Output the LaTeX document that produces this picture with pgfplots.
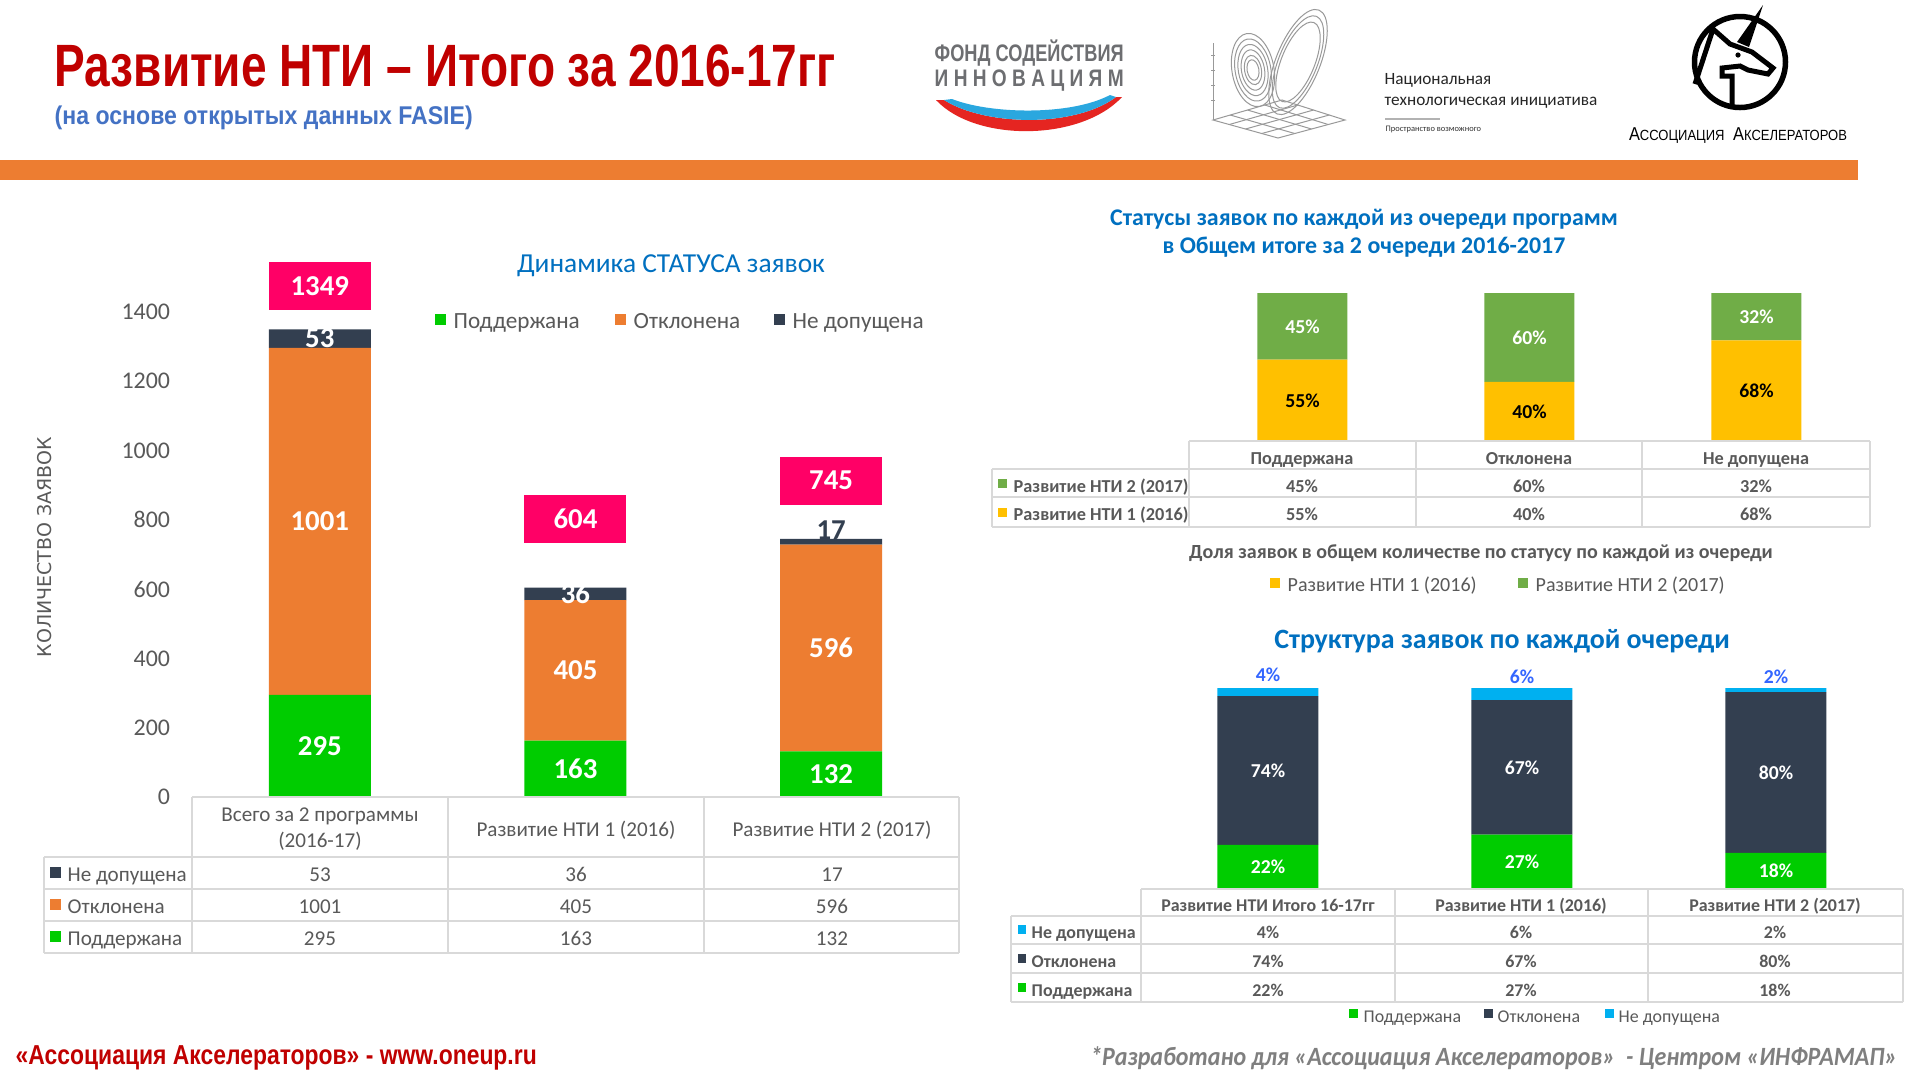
\documentclass[border=0pt]{standalone}
\usepackage{fontspec}
\setmainfont{Carlito}
\newfontfamily\arialf{Liberation Sans}
\newfontfamily\dejavu{DejaVu Sans}
\usepackage{graphicx}
\usepackage{pgfplots}
\usepackage{pgfplotstable}
\pgfplotsset{compat=1.18}
\usetikzlibrary{calc}
\newcommand\fz[1]{\fontsize{#1pt}{#1pt}\selectfont}

\definecolor{tRed}{HTML}{C00000}
\definecolor{sBlue}{HTML}{4472C4}
\definecolor{bandOr}{HTML}{ED7D31}
\definecolor{cGreen}{HTML}{00CC00}
\definecolor{cOrange}{HTML}{ED7D31}
\definecolor{cDark}{HTML}{333F50}
\definecolor{cPink}{HTML}{FF0066}
\definecolor{cTitle}{HTML}{0070C0}
\definecolor{cYellow}{HTML}{FFC000}
\definecolor{cLGreen}{HTML}{70AD47}
\definecolor{cLBlue}{HTML}{00B0F0}
\definecolor{pBlue}{HTML}{3366FF}
\definecolor{gLine}{HTML}{D9D9D9}
\definecolor{tGray}{HTML}{595959}
\definecolor{fGray}{HTML}{7F7F7F}
\definecolor{logoGray}{HTML}{6D6E71}
\definecolor{rusBlue}{HTML}{2AA7DF}
\definecolor{rusRed}{HTML}{E52521}

\pgfplotsset{
  /pgf/number format/1000 sep={},
  /pgf/number format/assume math mode=true,
  basechart/.style={scale only axis, anchor=south west, xmin=-0.5, xmax=2.5, ymin=0, clip=false,
     axis line style={draw=none}, tick style={draw=none}, xtick=\empty},
  labelchart/.style={basechart, hide axis},
}

% left chart: counts
\pgfplotstableread{
x sup rej nd
0 295 1001 53
1 163 405 36
2 132 596 17
}\leftdata
\pgfplotstableread{
x y v
0 147.5 295
0 795.5 1001
0 1322.5 53
1 81.5 163
1 365.5 405
1 586 36
2 66 132
2 430 596
}\leftlabels
\pgfplotstableread{
x y v
2 770 17
}\leftlabelsdark
\pgfplotstableread{
x y v
0 1474 1349
1 803 604
2 913 745
}\lefttotals

% right top chart: shares by status
\pgfplotstableread{
x s1 s2
0 55 45
1 40 60
2 68 32
}\rtdata
\pgfplotstableread{
x y v
0 27.5 55
1 20 40
2 34 68
}\rtlabA
\pgfplotstableread{
x y v
0 77.5 45
1 70 60
2 84 32
}\rtlabB

% right bottom chart: structure
\pgfplotstableread{
x sup rej nd
0 22 74 4
1 27 67 6
2 18 80 2
}\rbdata
\pgfplotstableread{
x y v
0 11 22
1 13.5 27
2 9 18
0 59 74
1 60.5 67
2 58 80
}\rblabW
\pgfplotstableread{
x y v
0 106.5 4
1 105.5 6
2 105.5 2
}\rblabTop

\begin{document}
\begin{tikzpicture}[x=0.1mm,y=0.1mm]
\useasboundingbox (0,0) rectangle (1920,-1080);
\fill[white] (0,0) rectangle (1920,-1080);

% ---------- header ----------
\node[anchor=base west, inner sep=0, text=tRed] at (54,-86)
  {\arialf\bfseries\fz{17}\resizebox{78.1mm}{\height}{Развитие НТИ – Итого за 2016-17гг}};
\node[anchor=base west, inner sep=0, text=sBlue] at (54,-124)
  {\arialf\bfseries\fz{7.3}\resizebox{41.8mm}{\height}{(на основе открытых данных FASIE)}};
\fill[bandOr] (0,-160) rectangle (1858,-180);

% fund logo
\node[anchor=base west, inner sep=0, text=logoGray] at (934,-61)
  {\arialf\bfseries\fz{6.8}\resizebox{18.9mm}{\height}{ФОНД СОДЕЙСТВИЯ}};
\node[anchor=base west, inner sep=0, text=logoGray] at (934,-86)
  {\arialf\bfseries\fz{6.8}\makebox[18.9mm][s]{\scalebox{0.8}[1]{И}\hfill \scalebox{0.8}[1]{Н}\hfill \scalebox{0.8}[1]{Н}\hfill \scalebox{0.8}[1]{О}\hfill \scalebox{0.8}[1]{В}\hfill \scalebox{0.8}[1]{А}\hfill \scalebox{0.8}[1]{Ц}\hfill \scalebox{0.8}[1]{И}\hfill \scalebox{0.8}[1]{Я}\hfill \scalebox{0.8}[1]{М}}};
\fill[rusRed] (936,-100) .. controls (975,-142) and (1080,-142) .. (1122,-97)
   -- (1116,-97) .. controls (1075,-128) and (985,-126) .. (944,-100) -- cycle;
\fill[rusBlue] (944,-100) .. controls (985,-126) and (1075,-128) .. (1116,-97)
   -- (1110,-95) .. controls (1070,-116) and (990,-114) .. (952,-99) -- cycle;

% NTI logo
\begin{scope}[draw=gray!80, line width=0.1mm]
\draw (1213,-43) -- (1213,-120);
\foreach \yy in {55,70,85,100} \draw (1211,-\yy) -- (1215,-\yy);
\coordinate (A) at (1213,-120); \coordinate (B) at (1282,-100);
\coordinate (C) at (1345,-120); \coordinate (D) at (1278,-138);
\draw (A) -- (B) -- (C) -- (D) -- cycle;
\foreach \t in {0.25,0.5,0.75} {
  \draw ($(A)!\t!(B)$) -- ($(D)!\t!(C)$);
  \draw ($(A)!\t!(D)$) -- ($(B)!\t!(C)$);
}
\foreach \r in {1,0.85,0.7,0.55,0.4,0.28} {
  \draw[rotate around={10:(1253,-70)}] (1253,-70) ellipse ({21*\r} and {37*\r});
}
\foreach \r in {1,0.88,0.76} {
  \draw[rotate around={-22:(1298,-62)}] (1298,-62) ellipse ({22*\r} and {56*\r});
}
\end{scope}
\node[anchor=base west, inner sep=0, text=black!85] at (1384,-84) {\fz{4.9}Национальная};
\node[anchor=base west, inner sep=0, text=black!85] at (1384,-105) {\fz{4.9}технологическая инициатива};
\draw[gray!60, line width=0.25mm] (1385,-119) -- (1440,-119);
\node[anchor=base west, inner sep=0, text=black!80] at (1385,-131) {\fz{2.4}Пространство возможного};

% Association logo
\draw[black, line width=0.55mm] (1740,-62) circle (45.5);
\fill[black] (1763,-5) -- (1737,-42) -- (1749,-47) -- cycle;
\draw[black, line width=0.5mm, line join=miter]
  (1695,-84) -- (1713,-29) -- (1730,-44) -- (1752,-52) -- (1773,-68) -- (1768,-74)
  -- (1748,-70) -- (1740,-66) -- (1722,-68) -- (1722,-76) -- (1732,-76) -- (1732,-106);
\fill[black] (1738,-55) circle (2.6);
\node[anchor=base, inner sep=0] at (1738,-140)
  {\arialf\resizebox{21.8mm}{\height}{{\fz{5.3}А}{\fz{4.2}ССОЦИАЦИЯ} {\fz{5.3}А}{\fz{4.2}КСЕЛЕРАТОРОВ}}};

% ---------- left chart ----------
\node[anchor=base, text=cTitle, inner sep=0] at (671,-272) {\fz{7.8}Динамика СТАТУСА заявок};
\fill[cGreen] (435,-314) rectangle (446,-325);
\node[anchor=mid west, text=tGray, inner sep=0] at (453,-320) {\fz{6.6}Поддержана};
\fill[cOrange] (615,-314) rectangle (626,-325);
\node[anchor=mid west, text=tGray, inner sep=0] at (633,-320) {\fz{6.6}Отклонена};
\fill[cDark] (774,-314) rectangle (785,-325);
\node[anchor=mid west, text=tGray, inner sep=0] at (792,-320) {\fz{6.6}Не допущена};
\node[rotate=90, text=tGray, inner sep=0] at (45,-547) {\dejavu\fz{5.4}КОЛИЧЕСТВО ЗАЯВОК};

\begin{axis}[basechart, at={(19.2mm,-79.7mm)}, width=76.7mm, height=55.46mm, ymax=1600,
  ybar stacked, bar width=10.2mm,
  ytick={0,200,...,1400},
  yticklabel style={font=\fz{6.8}, text=tGray, xshift=-0.95mm}]
\addplot[fill=cGreen, draw=none] table[x=x, y=sup]{\leftdata};
\addplot[fill=cOrange, draw=none] table[x=x, y=rej]{\leftdata};
\addplot[fill=cDark, draw=none] table[x=x, y=nd]{\leftdata};
\end{axis}
\begin{axis}[labelchart, at={(19.2mm,-79.7mm)}, width=76.7mm, height=55.46mm, ymax=1600]
\addplot[draw=none, mark=none, nodes near coords, point meta=explicit,
  every node near coord/.style={anchor=center, text=white, font=\bfseries\fz{8.2}}]
  table[x=x, y=y, meta=v]{\leftlabels};
\addplot[draw=none, mark=none, nodes near coords, point meta=explicit,
  every node near coord/.style={anchor=center, text=cDark, font=\bfseries\fz{8.2}}]
  table[x=x, y=y, meta=v]{\leftlabelsdark};
\addplot[draw=none, mark=none, nodes near coords, point meta=explicit,
  every node near coord/.style={anchor=center, fill=cPink, text=white, inner sep=0,
     minimum width=10.2mm, minimum height=4.8mm, font=\bfseries\fz{8.2}}]
  table[x=x, y=y, meta=v]{\lefttotals};
\end{axis}

% left table
\begin{scope}[draw=gLine, line width=0.2mm]
\draw (192,-797) -- (959,-797);
\foreach \y in {857,889,921,953} \draw (44,-\y) -- (959,-\y);
\foreach \x in {192,448,704,959} \draw (\x,-797) -- (\x,-953);
\draw (44,-857) -- (44,-953);
\end{scope}
\begin{scope}[every node/.style={text=tGray, inner sep=0}]
\node[align=center, font=\fontsize{6}{7.4}\selectfont] at (320,-829) {Всего за 2 программы\\(2016-17)};
\node[anchor=mid, font=\fz{6}] at (576,-828) {Развитие НТИ 1 (2016)};
\node[anchor=mid, font=\fz{6}] at (832,-828) {Развитие НТИ 2 (2017)};
\fill[cDark] (50,-867) rectangle (61,-878);
\node[anchor=mid west, font=\fz{6}] at (67,-873) {Не допущена};
\fill[cOrange] (50,-899) rectangle (61,-910);
\node[anchor=mid west, font=\fz{6}] at (67,-905) {Отклонена};
\fill[cGreen] (50,-931) rectangle (61,-942);
\node[anchor=mid west, font=\fz{6}] at (67,-937) {Поддержана};
\foreach \x/\a/\b/\c in {320/53/1001/295, 576/36/405/163, 832/17/596/132} {
  \node[anchor=mid, font=\fz{6}] at (\x,-873) {\a};
  \node[anchor=mid, font=\fz{6}] at (\x,-905) {\b};
  \node[anchor=mid, font=\fz{6}] at (\x,-937) {\c};
}
\end{scope}

% ---------- right top chart ----------
\node[anchor=base, text=cTitle, inner sep=0] at (1364,-225) {\bfseries\fz{6.8}Статусы заявок по каждой из очереди программ};
\node[anchor=base, text=cTitle, inner sep=0] at (1364,-253) {\bfseries\fz{6.8}в Общем итоге за 2 очереди 2016-2017};
\begin{axis}[basechart, at={(118.9mm,-44.1mm)}, width=68.1mm, height=14.8mm, ymax=100,
  ybar stacked, bar width=9mm, ytick=\empty]
\addplot[fill=cYellow, draw=none] table[x=x, y=s1]{\rtdata};
\addplot[fill=cLGreen, draw=none] table[x=x, y=s2]{\rtdata};
\end{axis}
\begin{axis}[labelchart, at={(118.9mm,-44.1mm)}, width=68.1mm, height=14.8mm, ymax=100]
\addplot[draw=none, mark=none, nodes near coords={\pgfmathprintnumber{\pgfplotspointmeta}\%}, point meta=explicit,
  every node near coord/.style={anchor=center, text=black, font=\bfseries\fz{5.6}}]
  table[x=x, y=y, meta=v]{\rtlabA};
\addplot[draw=none, mark=none, nodes near coords={\pgfmathprintnumber{\pgfplotspointmeta}\%}, point meta=explicit,
  every node near coord/.style={anchor=center, text=white, font=\bfseries\fz{5.6}}]
  table[x=x, y=y, meta=v]{\rtlabB};
\end{axis}
\begin{scope}[draw=gLine, line width=0.2mm]
\draw (1189,-441) -- (1870,-441);
\foreach \y in {469,497,527} \draw (992,-\y) -- (1870,-\y);
\foreach \x in {1189,1416,1642,1870} \draw (\x,-441) -- (\x,-527);
\draw (992,-469) -- (992,-527);
\end{scope}
\begin{scope}[every node/.style={text=tGray, inner sep=0, font=\bfseries\fz{5.2}}]
\node[anchor=mid] at (1302,-456) {Поддержана};
\node[anchor=mid] at (1529,-456) {Отклонена};
\node[anchor=mid] at (1756,-456) {Не допущена};
\fill[cLGreen] (998,-479) rectangle (1007,-488);
\node[anchor=mid west] at (1013,-484) {Развитие НТИ 2 (2017)};
\fill[cYellow] (998,-508) rectangle (1007,-517);
\node[anchor=mid west] at (1013,-512) {Развитие НТИ 1 (2016)};
\foreach \x/\a/\b in {1302/45/55, 1529/60/40, 1756/32/68} {
  \node[anchor=mid] at (\x,-484) {\a\%};
  \node[anchor=mid] at (\x,-512) {\b\%};
}
\end{scope}
\node[anchor=base, text=tGray, inner sep=0] at (1481,-558) {\bfseries\fz{5.7}Доля заявок в общем количестве по статусу по каждой из очереди};
\fill[cYellow] (1270,-578) rectangle (1280,-588);
\node[anchor=mid west, text=tGray, inner sep=0] at (1287,-583) {\fz{5.7}Развитие НТИ 1 (2016)};
\fill[cLGreen] (1518,-578) rectangle (1528,-588);
\node[anchor=mid west, text=tGray, inner sep=0] at (1535,-583) {\fz{5.7}Развитие НТИ 2 (2017)};

% ---------- right bottom chart ----------
\node[anchor=base, text=cTitle, inner sep=0] at (1502,-648) {\bfseries\fz{7.95}Структура заявок по каждой очереди};
\begin{axis}[basechart, at={(114.1mm,-88.9mm)}, width=76.2mm, height=20.1mm, ymax=100,
  ybar stacked, bar width=10.1mm, ytick=\empty]
\addplot[fill=cGreen, draw=none] table[x=x, y=sup]{\rbdata};
\addplot[fill=cDark, draw=none] table[x=x, y=rej]{\rbdata};
\addplot[fill=cLBlue, draw=none] table[x=x, y=nd]{\rbdata};
\end{axis}
\begin{axis}[labelchart, at={(114.1mm,-88.9mm)}, width=76.2mm, height=20.1mm, ymax=100]
\addplot[draw=none, mark=none, nodes near coords={\pgfmathprintnumber{\pgfplotspointmeta}\%}, point meta=explicit,
  every node near coord/.style={anchor=center, text=white, font=\bfseries\fz{5.6}}]
  table[x=x, y=y, meta=v]{\rblabW};
\addplot[draw=none, mark=none, nodes near coords={\pgfmathprintnumber{\pgfplotspointmeta}\%}, point meta=explicit,
  every node near coord/.style={anchor=center, text=pBlue, font=\bfseries\fz{5.6}}]
  table[x=x, y=y, meta=v]{\rblabTop};
\end{axis}
\begin{scope}[draw=gLine, line width=0.2mm]
\draw (1141,-889) -- (1903,-889);
\foreach \y in {916,944,973,1002} \draw (1011,-\y) -- (1903,-\y);
\foreach \x in {1141,1395,1648,1903} \draw (\x,-889) -- (\x,-1002);
\draw (1011,-916) -- (1011,-1002);
\end{scope}
\begin{scope}[every node/.style={text=tGray, inner sep=0, font=\bfseries\fz{5.1}}]
\node[anchor=mid] at (1268,-903) {Развитие НТИ Итого 16-17гг};
\node[anchor=mid] at (1521,-903) {Развитие НТИ 1 (2016)};
\node[anchor=mid] at (1775,-903) {Развитие НТИ 2 (2017)};
\fill[cLBlue] (1018,-925) rectangle (1026,-934);
\node[anchor=mid west] at (1031,-930) {Не допущена};
\fill[cDark] (1018,-954) rectangle (1026,-963);
\node[anchor=mid west] at (1031,-959) {Отклонена};
\fill[cGreen] (1018,-983) rectangle (1026,-992);
\node[anchor=mid west] at (1031,-988) {Поддержана};
\foreach \x/\a/\b/\c in {1268/4/74/22, 1521/6/67/27, 1775/2/80/18} {
  \node[anchor=mid] at (\x,-930) {\a\%};
  \node[anchor=mid] at (\x,-959) {\b\%};
  \node[anchor=mid] at (\x,-988) {\c\%};
}
\end{scope}
\fill[cGreen] (1349,-1009) rectangle (1358,-1018);
\node[anchor=mid west, text=tGray, inner sep=0] at (1363,-1014) {\fz{5.1}Поддержана};
\fill[cDark] (1484,-1009) rectangle (1493,-1018);
\node[anchor=mid west, text=tGray, inner sep=0] at (1497,-1014) {\fz{5.1}Отклонена};
\fill[cLBlue] (1605,-1009) rectangle (1614,-1018);
\node[anchor=mid west, text=tGray, inner sep=0] at (1618,-1014) {\fz{5.1}Не допущена};

% ---------- footer ----------
\node[anchor=base west, inner sep=0, text=tRed] at (15,-1064)
  {\arialf\bfseries\fz{7.8}\resizebox{52.1mm}{\height}{«Ассоциация Акселераторов» - www.oneup.ru}};
\node[anchor=base east, inner sep=0, text=fGray] at (1898,-1065)
  {\bfseries\itshape\fz{7.5}\resizebox{80.7mm}{\height}{*Разработано для «Ассоциация Акселераторов»\ \ - Центром «ИНФРАМАП»}};
\end{tikzpicture}
\end{document}
